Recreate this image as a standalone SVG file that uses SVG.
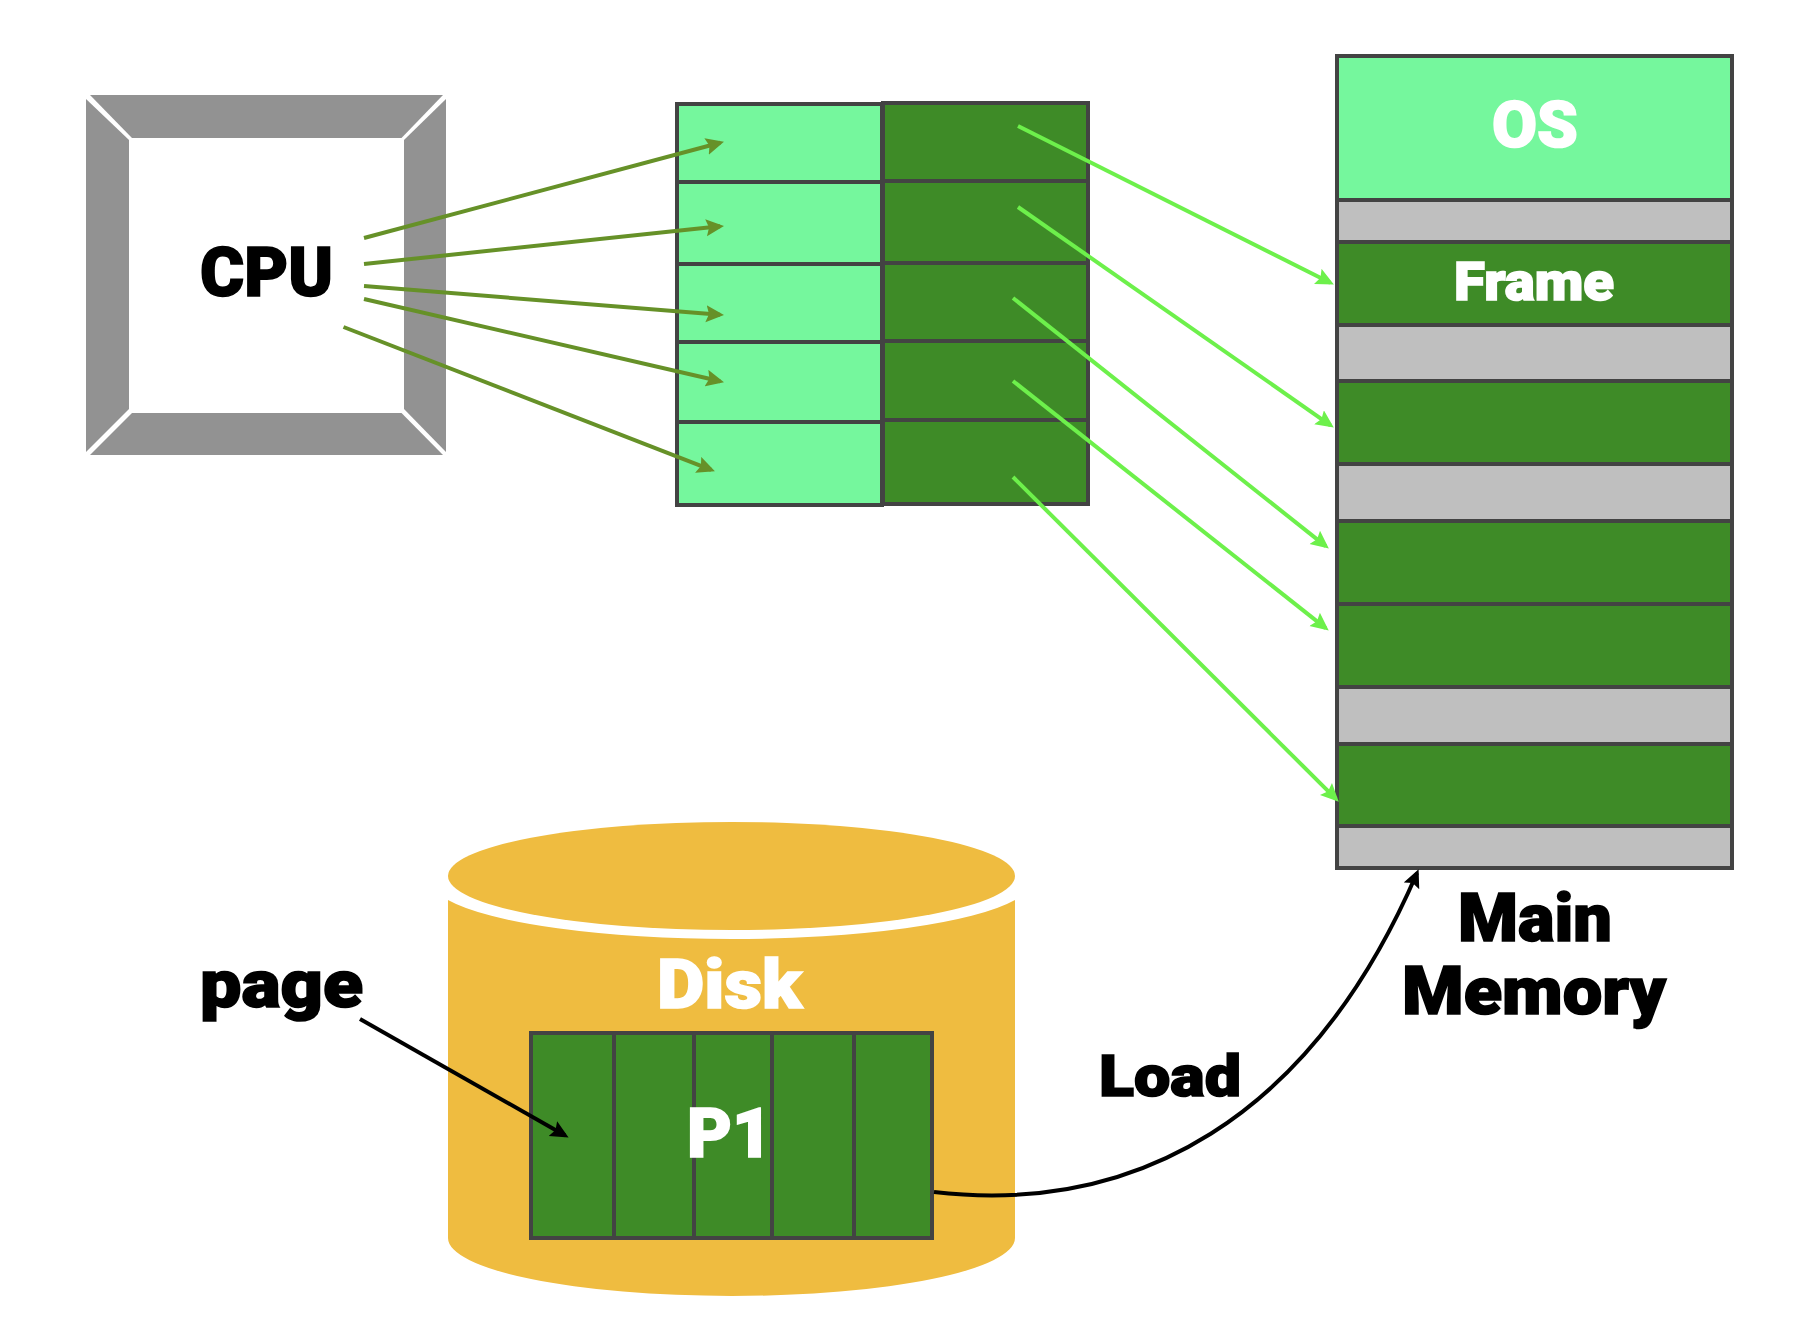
<svg xmlns="http://www.w3.org/2000/svg" width="1804" height="1344" viewBox="0 0 1804 1344">
<style>
text{font-family:"Roboto","Liberation Sans",sans-serif;font-weight:900;stroke-width:1.6;paint-order:stroke}
.w{fill:#fff;stroke:#fff}
.k{fill:#000;stroke:#000}
.f{fill:#929292}
.cell{stroke:#434343;stroke-width:4}
.lg{fill:#75F79D}
.dg{fill:#3E8B27}
.gy{fill:#BFBFBF}
.c{fill:none;stroke-width:4}
.o{stroke:#669128;marker-end:url(#ao)}
.l{stroke:#6DF04B;marker-end:url(#al)}
.b{stroke:#000;marker-end:url(#ab)}
</style>
<defs>
<marker id="ao" markerUnits="userSpaceOnUse" markerWidth="20" markerHeight="18" refX="14" refY="8.500" orient="auto"><path d="M0 0L18 8.500L0 17L3 8.500Z" fill="#669128"/></marker>
<marker id="al" markerUnits="userSpaceOnUse" markerWidth="20" markerHeight="18" refX="14" refY="8.500" orient="auto"><path d="M0 0L18 8.500L0 17L3 8.500Z" fill="#6DF04B"/></marker>
<marker id="ab" markerUnits="userSpaceOnUse" markerWidth="20" markerHeight="18" refX="14" refY="8.500" orient="auto"><path d="M0 0L18 8.500L0 17L3 8.500Z" fill="#000"/></marker>
</defs>
<rect width="1804" height="1344" fill="#fff"/>
<g id="cpu">
<path class="f" d="M90 95H443L401.500 138H132Z"/>
<path class="f" d="M90 455H443L401.500 413H132Z"/>
<path class="f" d="M86 99L129 140V409L86 452Z"/>
<path class="f" d="M446 99L404 140V409L446 452Z"/>
<text class="k" x="200" y="296" font-size="68" textLength="133" lengthAdjust="spacingAndGlyphs">CPU</text>
</g>
<g id="page-table-pages">
<rect class="cell lg" x="677" y="104" width="205" height="78"/>
<rect class="cell lg" x="677" y="182" width="205" height="82"/>
<rect class="cell lg" x="677" y="264" width="205" height="78"/>
<rect class="cell lg" x="677" y="342" width="205" height="80"/>
<rect class="cell lg" x="677" y="422" width="205" height="83"/>
</g>
<g id="page-table-frames">
<rect class="cell dg" x="883" y="103" width="205" height="78"/>
<rect class="cell dg" x="883" y="181" width="205" height="82"/>
<rect class="cell dg" x="883" y="263" width="205" height="78"/>
<rect class="cell dg" x="883" y="341" width="205" height="79"/>
<rect class="cell dg" x="883" y="420" width="205" height="84"/>
</g>
<g id="main-memory">
<rect class="cell lg" x="1337" y="56" width="395" height="144"/>
<rect class="cell gy" x="1337" y="200" width="395" height="42"/>
<rect class="cell dg" x="1337" y="242" width="395" height="83"/>
<rect class="cell gy" x="1337" y="325" width="395" height="56"/>
<rect class="cell dg" x="1337" y="381" width="395" height="83"/>
<rect class="cell gy" x="1337" y="464" width="395" height="57"/>
<rect class="cell dg" x="1337" y="521" width="395" height="83"/>
<rect class="cell dg" x="1337" y="604" width="395" height="83"/>
<rect class="cell gy" x="1337" y="687" width="395" height="57"/>
<rect class="cell dg" x="1337" y="744" width="395" height="82"/>
<rect class="cell gy" x="1337" y="826" width="395" height="42"/>
<text class="w" x="1492" y="147" font-size="65" textLength="86" lengthAdjust="spacingAndGlyphs">OS</text>
<text class="w" x="1454" y="300" font-size="53" textLength="160" lengthAdjust="spacingAndGlyphs">Frame</text>
<text class="k" x="1458" y="941" font-size="66" textLength="154" lengthAdjust="spacingAndGlyphs">Main</text>
<text class="k" x="1402" y="1014" font-size="66" textLength="264" lengthAdjust="spacingAndGlyphs">Memory</text>
</g>
<g id="disk">
<ellipse cx="731.500" cy="876" rx="283.500" ry="54" fill="#EFBC40"/>
<path fill="#EFBC40" d="M448 900A300 58 0 0 0 1015 900V1238A283.500 58 0 0 1 448 1238Z"/>
<text class="w" x="657" y="1008" font-size="68" textLength="145" lengthAdjust="spacingAndGlyphs">Disk</text>
</g>
<g id="p1">
<rect class="cell dg" x="531" y="1033" width="83" height="205"/>
<rect class="cell dg" x="614" y="1033" width="80" height="205"/>
<rect class="cell dg" x="694" y="1033" width="78" height="205"/>
<rect class="cell dg" x="772" y="1033" width="82" height="205"/>
<rect class="cell dg" x="854" y="1033" width="78" height="205"/>
<text class="w" x="687" y="1157" font-size="68" textLength="85" lengthAdjust="spacingAndGlyphs">P1</text>
</g>
<g id="page-label"><text class="k" x="200" y="1007" font-size="66" textLength="163" lengthAdjust="spacingAndGlyphs">page</text></g>
<g id="load-label"><text class="k" x="1099" y="1096" font-size="58" textLength="142" lengthAdjust="spacingAndGlyphs">Load</text></g>
<g id="connectors">
<path class="c o" d="M364 238L720.100 142.800"/>
<path class="c o" d="M364 264L720 226.300"/>
<path class="c o" d="M364 286L720 314.800"/>
<path class="c o" d="M364 299L720.100 381.300"/>
<path class="c o" d="M343.500 327L711.200 469.900"/>
<path class="c l" d="M1018 126L1330.300 282.700"/>
<path class="c l" d="M1018 207L1330.500 425.300"/>
<path class="c l" d="M1013 298L1325.700 546.100"/>
<path class="c l" d="M1013 381L1325.600 628.100"/>
<path class="c l" d="M1013 477L1335.900 798.900"/>
<path class="c b" d="M360 1019L565.100 1135.500"/>
<path class="c b" d="M934 1192C1135 1215 1310 1120 1417 873"/>
</g>
</svg>
